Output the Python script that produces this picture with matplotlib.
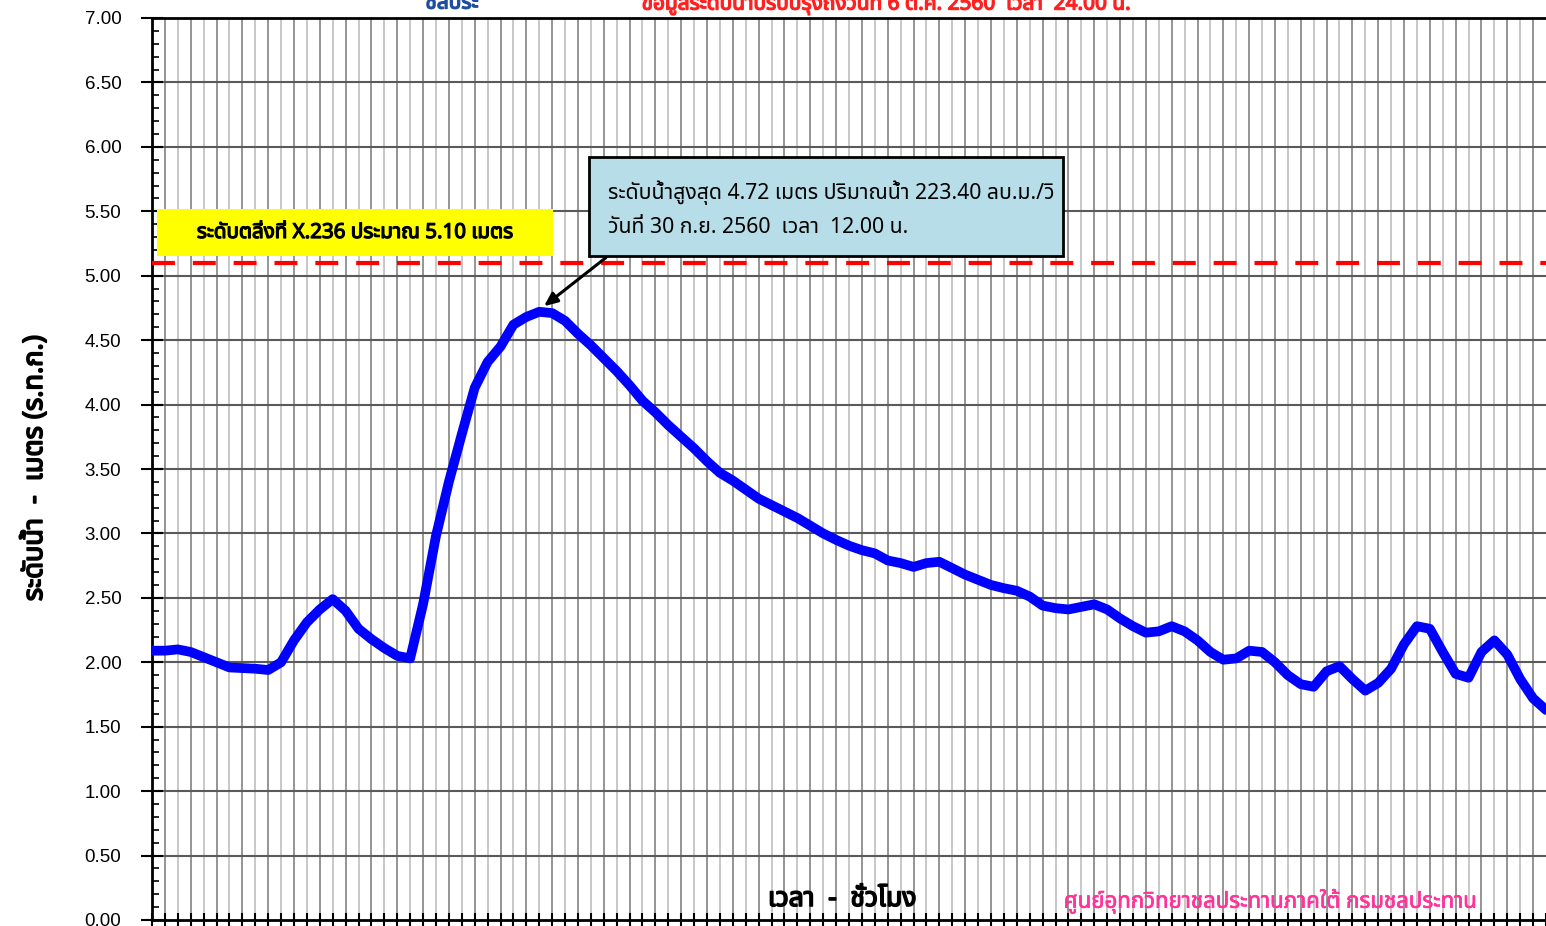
""" Hourly water level chart, station X.236
"""
import numpy as np
import matplotlib
matplotlib.use("Agg")
import matplotlib.pyplot as plt
import matplotlib.patheffects as pe
from matplotlib import font_manager as fm
from matplotlib.ft2font import FT2Font
from matplotlib.patches import Rectangle
from matplotlib.ticker import MultipleLocator, NullFormatter

# water level every 2 hours from 28 Sep 2560 00:00 to 7 Oct 2560 00:00 (m, MSL)
hours = np.arange(0, 217, 2)
level = [
    2.09, 2.09, 2.10, 2.08, 2.04, 2.00, 1.96, 1.955, 1.95, 1.94,
    2.00, 2.17, 2.31, 2.41, 2.49, 2.40, 2.26, 2.18, 2.11, 2.05,
    2.03, 2.45, 2.98, 3.40, 3.77, 4.13, 4.33, 4.45, 4.62, 4.68,
    4.72, 4.71, 4.65, 4.55, 4.46, 4.36, 4.26, 4.15, 4.03, 3.94,
    3.84, 3.75, 3.66, 3.56, 3.47, 3.41, 3.34, 3.27, 3.22, 3.17,
    3.12, 3.06, 3.00, 2.95, 2.905, 2.87, 2.845, 2.79, 2.77, 2.74,
    2.77, 2.78, 2.73, 2.68, 2.64, 2.60, 2.575, 2.555, 2.51, 2.44,
    2.42, 2.41, 2.43, 2.45, 2.41, 2.34, 2.28, 2.23, 2.24, 2.28,
    2.24, 2.17, 2.08, 2.02, 2.03, 2.09, 2.08, 2.00, 1.90, 1.83,
    1.81, 1.93, 1.97, 1.87, 1.78, 1.84, 1.95, 2.14, 2.28, 2.26,
    2.08, 1.91, 1.88, 2.08, 2.17, 2.06, 1.87, 1.72, 1.63,
]
bank_level = 5.10
peak_level = 4.72
peak_hour = 60

y_ticks = np.arange(0, 7.01, 0.5)

title_text = "ข้อมูลระดับน้ำปรับปรุงถึงวันที่ 6 ต.ค. 2560  เวลา  24.00 น."
bank_text = "ระดับตลิ่งที่ X.236 ประมาณ 5.10 เมตร"
peak_text = ("ระดับน้ำสูงสุด 4.72 เมตร ปริมาณน้ำ 223.40 ลบ.ม./วิ\n"
             "วันที่ 30 ก.ย. 2560  เวลา  12.00 น.")
ylabel_text = "ระดับน้ำ  -  เมตร (ร.ท.ก.)"
xlabel_text = "เวลา  -  ชั่วโมง"
credit_text = "ศูนย์อุทกวิทยาชลประทานภาคใต้ กรมชลประทาน"


def thai_font():
    """Pick an installed family that has Thai glyphs."""
    names = []
    for f in fm.fontManager.ttflist:
        try:
            if 0x0E01 in FT2Font(f.fname).get_charmap():
                names.append(f.name)
        except Exception:
            pass
    for pref in ["Tahoma", "Noto Sans Thai", "Loma", "Garuda", "Sarabun",
                 "Laksaman", "Norasi", "Kinnari"]:
        if pref in names:
            return pref
    return names[0] if names else None


def bold(color, w=0.9):
    # the Thai face has no bold weight, thicken it with a stroke
    return [pe.withStroke(linewidth=w, foreground=color)]


thai = thai_font()
families = ([thai] if thai else []) + ["Liberation Sans", "DejaVu Sans"]
plt.rcParams["font.family"] = families

W, H = 1546, 926
fig = plt.figure(figsize=(W / 100, H / 100), dpi=100)
ax = fig.add_axes([152 / W, (H - 920) / H, (1546 - 152) / W, (920 - 18) / H])

# vertical grid, alternating shades
for k, h in enumerate(hours[1:-1]):
    ax.axvline(h, color="#8c8c8c" if k % 2 == 0 else "#c4c4c4", lw=1.3, zorder=1)
for yv in y_ticks[1:-1]:
    ax.axhline(yv, color="#5a5a5a", lw=1.5, zorder=1)

ax.plot(hours, level, color="#0000ff", lw=7, solid_joinstyle="round",
        solid_capstyle="round", zorder=4)
ax.axhline(bank_level, color="#ff0000", lw=3, dashes=(5.5, 4.3), zorder=3)

ax.set_xlim(0, 216)
ax.set_ylim(0, 7)
ax.set_yticks(y_ticks)
ax.set_yticklabels([f"{v:.2f}" for v in y_ticks], family="Liberation Sans")
ax.yaxis.set_minor_locator(MultipleLocator(0.1))
ax.xaxis.set_major_locator(MultipleLocator(2))
ax.xaxis.set_major_formatter(NullFormatter())
ax.tick_params(axis="y", which="major", direction="inout", length=16, width=1.5,
               labelsize=13.5, pad=14)
ax.tick_params(axis="y", which="minor", direction="in", length=5, width=1.2)
ax.tick_params(axis="x", which="major", direction="inout", length=10, width=1.5)
for side in ["left", "bottom", "top"]:
    ax.spines[side].set_linewidth(2)
ax.spines["right"].set_visible(False)

# yellow bank-level label
fig.add_artist(Rectangle((157 / W, 1 - 256 / H), (553 - 157) / W, (256 - 209) / H,
                         transform=fig.transFigure, facecolor="#ffff00",
                         edgecolor="none", zorder=5))
fig.text(355 / W, 1 - 233 / H, bank_text, ha="center", va="center",
         fontsize=14.8, zorder=6, path_effects=bold("black", 0.9))

# peak annotation box
fig.add_artist(Rectangle((589 / W, 1 - 256 / H), (1063 - 589) / W, (256 - 157) / H,
                         transform=fig.transFigure, facecolor="#b7dde8",
                         edgecolor="black", lw=2, zorder=5))
fig.text(608 / W, 1 - 209 / H, peak_text, ha="left", va="center",
         fontsize=15.3, linespacing=1.75, zorder=6)
ax.annotate("", xy=(peak_hour + 0.4, peak_level + 0.03),
            xytext=(608 / W, 1 - 256 / H), textcoords="figure fraction",
            arrowprops=dict(arrowstyle="-|>,head_length=0.8,head_width=0.35",
                            color="black", lw=2.2), zorder=6)

# labels
fig.text(35 / W, 1 - 468 / H, ylabel_text, rotation=90, ha="center", va="center",
         fontsize=19.5, path_effects=bold("black", 1.2))
fig.text(842 / W, 1 - 899 / H, xlabel_text, ha="center", va="center",
         fontsize=19, path_effects=bold("black", 1.2))
fig.text(1270 / W, 1 - 901 / H, credit_text, ha="center", va="center",
         fontsize=16, color="#ff3399", path_effects=bold("#ff3399", 0.5))
fig.text(886 / W, 1 - 3 / H, title_text, ha="center", va="center",
         fontsize=15, color="#ff2020", path_effects=bold("#ff2020", 1.0))
fig.text(452 / W, 1 - 3 / H, "ชลประ", ha="center", va="center",
         fontsize=15, style="italic", color="#1f4e9e",
         path_effects=bold("#1f4e9e", 1.0))

fig.savefig("out.png", dpi=100)
plt.close(fig)
